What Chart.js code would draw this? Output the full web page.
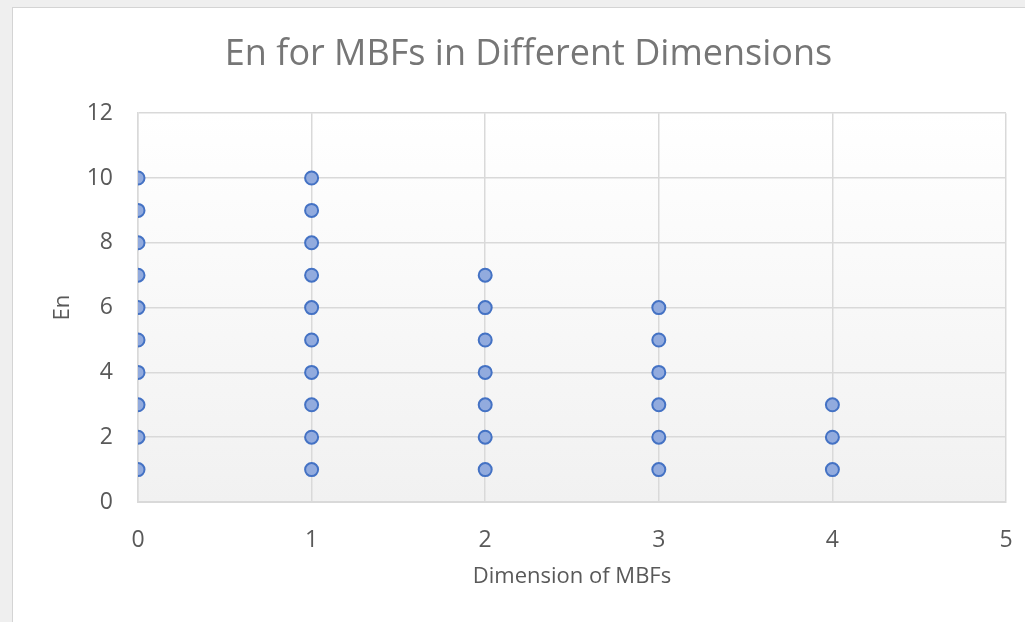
<!DOCTYPE html>
<html>
<head>
<meta charset="utf-8">
<script src="https://cdn.jsdelivr.net/npm/chart.js@4.4.1/dist/chart.umd.min.js"></script>
<style>
  html, body { margin: 0; padding: 0; background: #efefef; }
  body { width: 1025px; height: 622px; position: relative; overflow: hidden; }
  #card { position: absolute; left: 12px; top: 7px; width: 1100px; height: 700px;
          background: #ffffff; border: 1px solid #d4d4d4; box-sizing: border-box; }
  #wrap { position: absolute; left: 0; top: 0; width: 1025px; height: 622px; }
</style>
</head>
<body>
<div id="card"></div>
<div id="wrap"><canvas id="chart" width="1025" height="622"></canvas></div>
<script>
// MBF dimension (x) and En value (y) for every point
const dimension = [
  0, 0, 0, 0, 0, 0, 0, 0, 0, 0,
  1, 1, 1, 1, 1, 1, 1, 1, 1, 1,
  2, 2, 2, 2, 2, 2, 2,
  3, 3, 3, 3, 3, 3,
  4, 4, 4
];
const enValues = [
  1, 2, 3, 4, 5, 6, 7, 8, 9, 10,
  1, 2, 3, 4, 5, 6, 7, 8, 9, 10,
  1, 2, 3, 4, 5, 6, 7,
  1, 2, 3, 4, 5, 6,
  1, 2, 3
];
const xTicks = [0, 1, 2, 3, 4, 5];
const yTicks = [0, 2, 4, 6, 8, 10, 12];

const chartTitle = 'En for MBFs in Different Dimensions';
const xTitle = 'Dimension of MBFs';
const yTitle = 'En';

const points = dimension.map((d, i) => ({ x: d, y: enValues[i] }));

const FONT = "'Open Sans', 'Noto Sans', sans-serif";

// soft vertical gradient behind the plot area
const plotBackground = {
  id: 'plotBackground',
  beforeDraw(chart) {
    const { ctx, chartArea: a } = chart;
    const g = ctx.createLinearGradient(0, a.top, 0, a.bottom);
    g.addColorStop(0, '#ffffff');
    g.addColorStop(1, '#f1f1f1');
    ctx.save();
    ctx.fillStyle = g;
    ctx.fillRect(a.left, a.top, a.right - a.left, a.bottom - a.top);
    ctx.restore();
  }
};

new Chart(document.getElementById('chart'), {
  type: 'scatter',
  data: {
    datasets: [{
      data: points,
      backgroundColor: '#92abde',
      borderColor: '#4472c4',
      borderWidth: 2,
      pointRadius: 6.5,
      pointHoverRadius: 6.5
    }]
  },
  options: {
    responsive: false,
    animation: false,
    layout: { padding: { left: 51, right: 19, top: 0, bottom: 20 } },
    plugins: {
      legend: { display: false },
      tooltip: { enabled: false },
      title: {
        display: true,
        text: chartTitle,
        color: '#767676',
        font: { family: FONT, size: 36, weight: 'normal' },
        padding: { top: 33, bottom: 37 }
      }
    },
    scales: {
      x: {
        type: 'linear',
        min: 0, max: 5,
        afterBuildTicks(scale) { scale.ticks = xTicks.map(v => ({ value: v })); },
        afterFit(scale) {
          scale.height = 100;
          scale.paddingLeft = 0;
          scale.paddingRight = 0;
        },
        grid: { color: '#d9d9d9', lineWidth: 1.5, drawTicks: false },
        border: { color: '#d9d9d9', width: 2 },
        ticks: { color: '#595959', font: { family: FONT, size: 23 }, padding: 25 },
        title: {
          display: true, text: xTitle, color: '#595959',
          font: { family: FONT, size: 22 }, padding: { top: 0, bottom: 12 }
        }
      },
      y: {
        type: 'linear',
        min: 0, max: 12,
        afterBuildTicks(scale) { scale.ticks = yTicks.map(v => ({ value: v })); },
        afterFit(scale) { scale.width = 87; },
        grid: { color: '#d9d9d9', lineWidth: 1.5, drawTicks: false },
        border: { color: '#d9d9d9', width: 1.5 },
        ticks: { color: '#595959', font: { family: FONT, size: 23 }, padding: 25 },
        title: {
          display: true, text: yTitle, color: '#595959',
          font: { family: FONT, size: 22 }, padding: { top: -1, bottom: 0 }
        }
      }
    }
  },
  plugins: [plotBackground]
});
</script>
</body>
</html>
